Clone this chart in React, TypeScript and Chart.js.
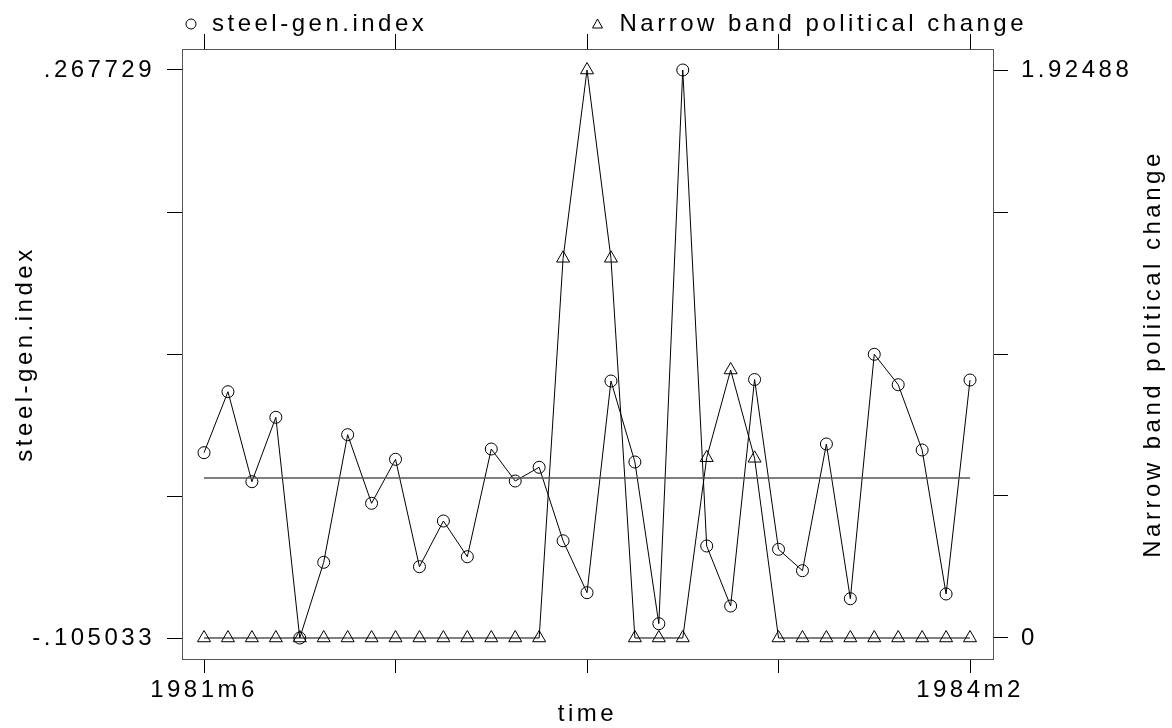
import React, { useEffect, useRef } from "react";
import { Chart, registerables } from "chart.js";

Chart.register(...registerables);

const MONTHS = [
  "1981m6", "1981m7", "1981m8", "1981m9", "1981m10", "1981m11", "1981m12",
  "1982m1", "1982m2", "1982m3", "1982m4", "1982m5", "1982m6", "1982m7", "1982m8", "1982m9", "1982m10", "1982m11", "1982m12",
  "1983m1", "1983m2", "1983m3", "1983m4", "1983m5", "1983m6", "1983m7", "1983m8", "1983m9", "1983m10", "1983m11", "1983m12",
  "1984m1", "1984m2",
];

const STEEL = [
  0.01658, 0.0566, -0.00246, 0.03981, -0.105033, -0.05535, 0.02839, -0.01663, 0.01224, -0.05824, -0.02825,
  -0.05168, 0.019, -0.002, 0.00699, -0.04124, -0.0753, 0.06363, 0.01047, -0.09565, 0.267729, -0.04465,
  -0.08403, 0.06461, -0.04682, -0.06086, 0.02228, -0.07924, 0.08115, 0.0612, 0.01835, -0.07615, 0.06428,
];

const NARROW = [
  0, 0, 0, 0, 0, 0, 0, 0, 0, 0, 0, 0, 0, 0, 0, 1.2868, 1.92488, 1.2868, 0, 0, 0, 0.611, 0.9082, 0.609,
  0, 0, 0, 0, 0, 0, 0, 0, 0,
];

const REF_LEVEL = 0;

const X_TICK_INDEX = [0, 8, 16, 24, 32];
const X_TICK_LABELS = ["1981m6", "", "", "", "1984m2"];
const LEFT_TICKS = [-0.105033, -0.0118425, 0.081348, 0.1745385, 0.267729];
const LEFT_TICK_LABELS = ["-.105033", "", "", "", ".267729"];
const RIGHT_TICKS = [0, 0.48122, 0.96244, 1.44366, 1.92488];
const RIGHT_TICK_LABELS = ["0", "", "", "", "1.92488"];

const SERIES_NAMES = ["steel-gen.index", "Narrow band political change"];
const X_TITLE = "time";

const FONT_FAMILY = '"Liberation Sans", Arial, Helvetica, sans-serif';
const FONT_SIZE = 24;
const SPACING = "3.5px";

const spacingPlugin = {
  id: "spacing",
  beforeUpdate(chart: any) {
    chart.ctx.letterSpacing = SPACING;
  },
  beforeLayout(chart: any) {
    chart.ctx.letterSpacing = SPACING;
  },
  beforeDraw(chart: any) {
    chart.ctx.letterSpacing = SPACING;
  },
};

const annotPlugin = {
  id: "annot",
  afterDraw(chart: any) {
    const ctx = chart.ctx as CanvasRenderingContext2D;
    const ca = chart.chartArea;
    ctx.save();
    (ctx as any).letterSpacing = SPACING;
    ctx.fillStyle = "#000";
    ctx.strokeStyle = "#000";
    ctx.lineWidth = 1;
    ctx.font = `${FONT_SIZE}px ${FONT_FAMILY}`;

    // legend
    const ly = 24;
    const s1 = ca.left + 9;
    ctx.beginPath();
    ctx.arc(s1, ly, 5, 0, Math.PI * 2);
    ctx.stroke();
    ctx.textAlign = "left";
    ctx.textBaseline = "alphabetic";
    ctx.fillText(SERIES_NAMES[0], s1 + 21, 31);

    const s2 = (ca.left + ca.right) / 2 + 10;
    ctx.beginPath();
    ctx.moveTo(s2, ly - 5);
    ctx.lineTo(s2 + 5, ly + 4);
    ctx.lineTo(s2 - 5, ly + 4);
    ctx.closePath();
    ctx.stroke();
    ctx.fillText(SERIES_NAMES[1], s2 + 22, 31);

    // x title
    ctx.textAlign = "center";
    ctx.fillText(X_TITLE, (ca.left + ca.right) / 2, 721);

    // left title
    const cy = (ca.top + ca.bottom) / 2;
    ctx.save();
    ctx.translate(32, cy);
    ctx.rotate(-Math.PI / 2);
    ctx.textAlign = "center";
    ctx.fillText(SERIES_NAMES[0], 0, 0);
    ctx.restore();

    // right title
    ctx.save();
    ctx.translate(1160, cy);
    ctx.rotate(-Math.PI / 2);
    ctx.textAlign = "center";
    ctx.fillText(SERIES_NAMES[1], 0, 0);
    ctx.restore();

    ctx.restore();
  },
};

export default function App() {
  const ref = useRef<HTMLCanvasElement | null>(null);

  useEffect(() => {
    if (!ref.current) return;
    const font = { family: FONT_FAMILY, size: FONT_SIZE };
    const commonGrid = {
      drawOnChartArea: false,
      drawTicks: true,
      color: "#000",
      lineWidth: 1,
    };
    const border = { display: true, color: "#555", width: 1 };

    const chart = new Chart(ref.current, {
      type: "line",
      data: {
        datasets: [
          {
            label: "ref",
            data: [
              { x: 0, y: REF_LEVEL },
              { x: MONTHS.length - 1, y: REF_LEVEL },
            ],
            borderColor: "#555",
            borderWidth: 1.5,
            pointRadius: 0,
            yAxisID: "y",
            xAxisID: "x",
          },
          {
            label: SERIES_NAMES[0],
            data: STEEL.map((v, i) => ({ x: i, y: v })),
            borderColor: "#000",
            borderWidth: 1,
            pointStyle: "circle",
            pointRadius: 6,
            pointBorderColor: "#000",
            pointBackgroundColor: "rgba(0,0,0,0)",
            pointBorderWidth: 1,
            yAxisID: "y",
            xAxisID: "x",
          },
          {
            label: SERIES_NAMES[1],
            data: NARROW.map((v, i) => ({ x: i, y: v })),
            borderColor: "#000",
            borderWidth: 1,
            pointStyle: "triangle",
            pointRadius: 7.5,
            pointBorderColor: "#000",
            pointBackgroundColor: "rgba(0,0,0,0)",
            pointBorderWidth: 1,
            yAxisID: "y2",
            xAxisID: "x",
          },
        ],
      },
      options: {
        responsive: false,
        animation: false,
        devicePixelRatio: 1,
        layout: { padding: 0 },
        plugins: {
          legend: { display: false },
          tooltip: { enabled: false },
        },
        scales: {
          x: {
            type: "linear",
            position: "bottom",
            min: -0.92,
            max: 32.96,
            afterBuildTicks: (s: any) => {
              s.ticks = X_TICK_INDEX.map((v) => ({ value: v }));
            },
            afterFit: (s: any) => {
              s.height = 69;
            },
            ticks: {
              font,
              color: "#000",
              padding: 3,
              maxRotation: 0,
              autoSkip: false,
              callback: (v: any) => {
                const k = X_TICK_INDEX.indexOf(Number(v));
                return k >= 0 ? X_TICK_LABELS[k] : "";
              },
            },
            grid: { ...commonGrid, tickLength: 14 },
            border,
          },
          xTop: {
            type: "linear",
            position: "top",
            min: -0.92,
            max: 32.96,
            afterBuildTicks: (s: any) => {
              s.ticks = X_TICK_INDEX.map((v) => ({ value: v }));
            },
            afterFit: (s: any) => {
              s.height = 49;
            },
            ticks: { display: true, font, callback: () => "" },
            grid: { ...commonGrid, tickLength: 15 },
            border,
          },
          y: {
            type: "linear",
            position: "left",
            min: -0.11881,
            max: 0.28151,
            afterBuildTicks: (s: any) => {
              s.ticks = LEFT_TICKS.map((v) => ({ value: v }));
            },
            afterFit: (s: any) => {
              s.width = 182;
            },
            ticks: {
              font,
              color: "#000",
              padding: 12,
              autoSkip: false,
              callback: (_v: any, i: number) => LEFT_TICK_LABELS[i],
            },
            grid: { ...commonGrid, tickLength: 15 },
            border,
          },
          y2: {
            type: "linear",
            position: "right",
            min: -0.07117,
            max: 1.99605,
            afterBuildTicks: (s: any) => {
              s.ticks = RIGHT_TICKS.map((v) => ({ value: v }));
            },
            afterFit: (s: any) => {
              s.width = 179;
            },
            ticks: {
              font,
              color: "#000",
              padding: 13,
              autoSkip: false,
              callback: (_v: any, i: number) => RIGHT_TICK_LABELS[i],
            },
            grid: { ...commonGrid, tickLength: 15 },
            border,
          },
        },
      } as any,
      plugins: [spacingPlugin, annotPlugin],
    });
    return () => chart.destroy();
  }, []);

  return (
    <canvas
      ref={ref}
      width={1172}
      height={728}
      style={{ position: "absolute", left: 0, top: 0, display: "block", background: "#fff" }}
    />
  );
}
